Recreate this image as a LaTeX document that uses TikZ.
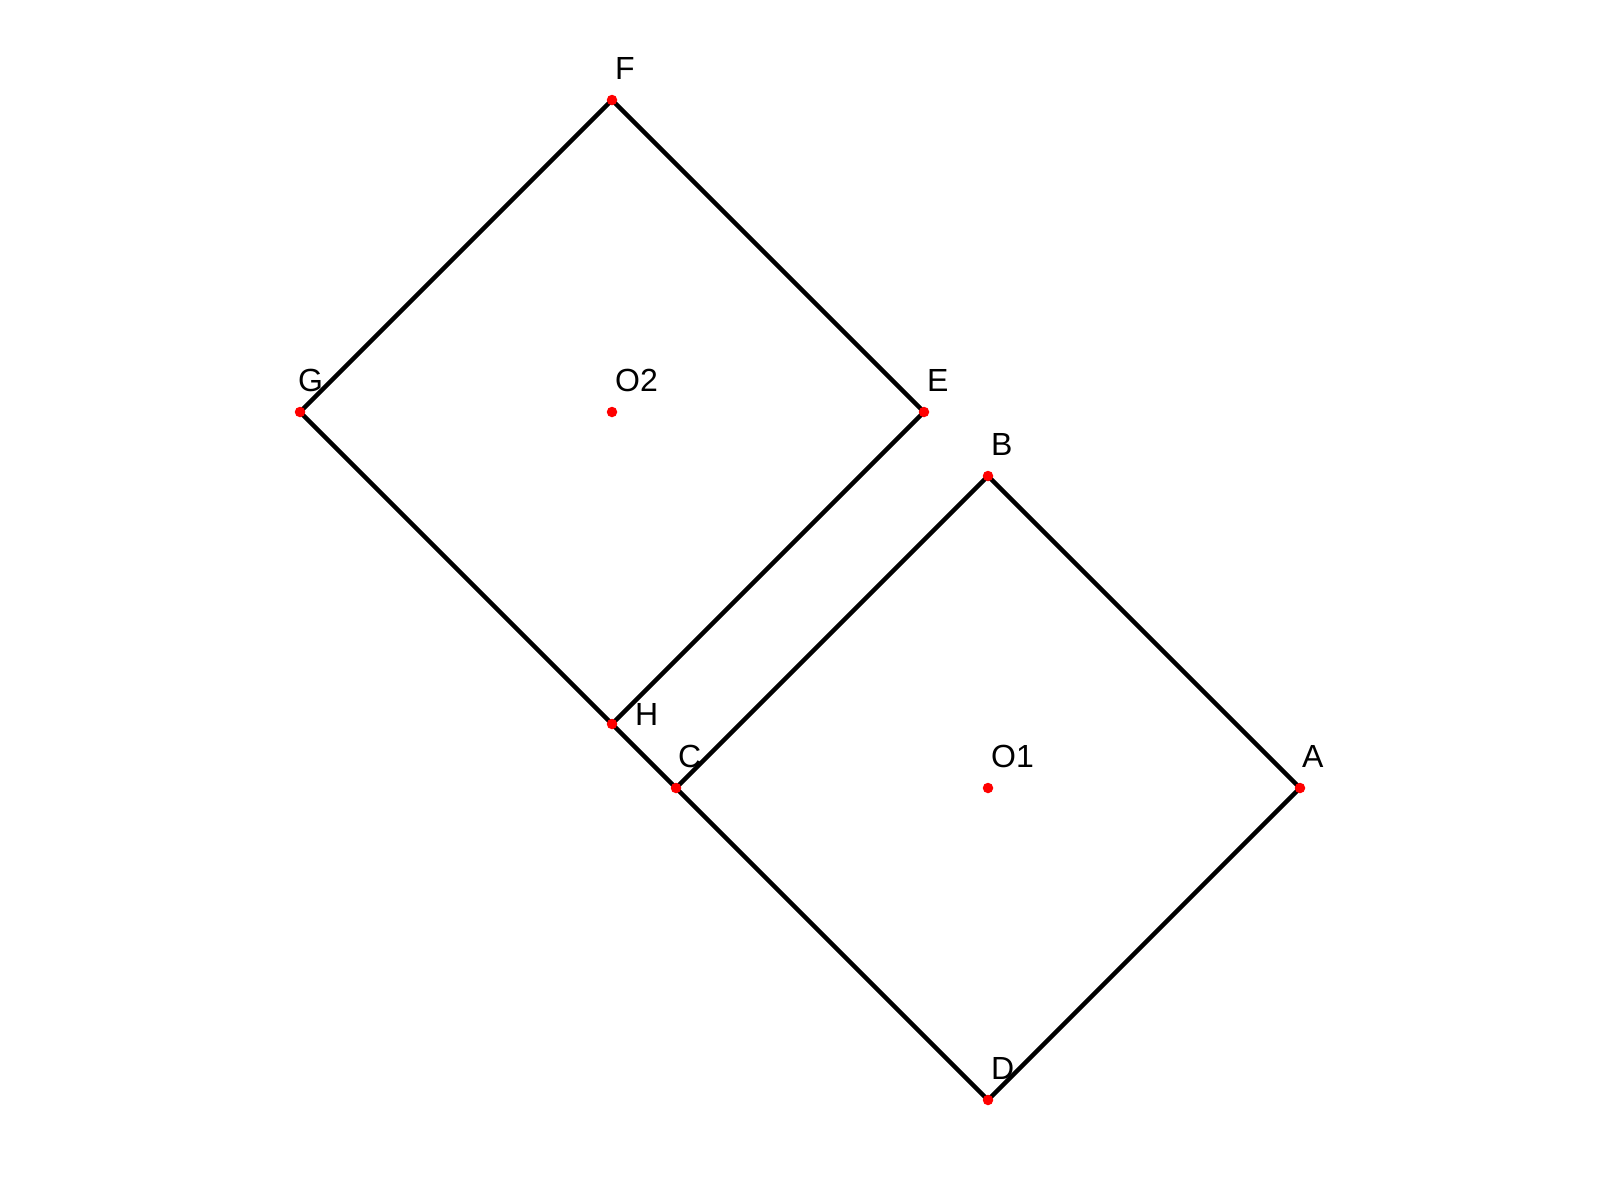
\documentclass[tikz,border=0pt]{standalone}
\usepackage{fontspec}
\setmainfont{Liberation Sans}
\usetikzlibrary{calc}
\begin{document}
\begin{tikzpicture}[x=1pt,y=-1pt,
  edge/.style={line width=4.4pt, line join=round, black},
  pt/.style={circle, fill=red, inner sep=0pt, minimum size=10.5pt},
  lbl/.style={font=\fontsize{32}{32}\selectfont, anchor=base west, inner sep=0pt}]
\useasboundingbox (0,0) rectangle (1600,1200);
% points
\coordinate (F) at (612,100);
\coordinate (G) at (300,412);
\coordinate (E) at (924,412);
\coordinate (O2) at (612,412);
\coordinate (H) at (612,724);
\coordinate (B) at (988,476);
\coordinate (C) at (676,788);
\coordinate (A) at (1300,788);
\coordinate (O1) at (988,788);
\coordinate (D) at (988,1100);
% edges
\draw[edge] (F) -- (E) -- (H) -- (G) -- cycle;
\draw[edge] (B) -- (A) -- (D) -- (C) -- cycle;
\draw[edge] (H) -- (C);
% dots
\foreach \p in {F,G,E,O2,H,B,C,A,O1,D}
  \node[pt] (d\p) at (\p) {};
% labels
\node[lbl] (lF) at ($(F)+(3,-21)$) {F};
\node[lbl] (lG) at ($(G)+(-2,-21)$) {G};
\node[lbl] (lE) at ($(E)+(3,-21)$) {E};
\node[lbl] (lO2) at ($(O2)+(3,-21)$) {O2};
\node[lbl] (lH) at ($(H)+(23,1)$) {H};
\node[lbl] (lB) at ($(B)+(3,-21)$) {B};
\node[lbl] (lC) at ($(C)+(2,-21)$) {C};
\node[lbl] (lA) at ($(A)+(2,-21)$) {A};
\node[lbl] (lO1) at ($(O1)+(3,-21)$) {O1};
\node[lbl] (lD) at ($(D)+(3,-21)$) {D};
\end{tikzpicture}
\end{document}
